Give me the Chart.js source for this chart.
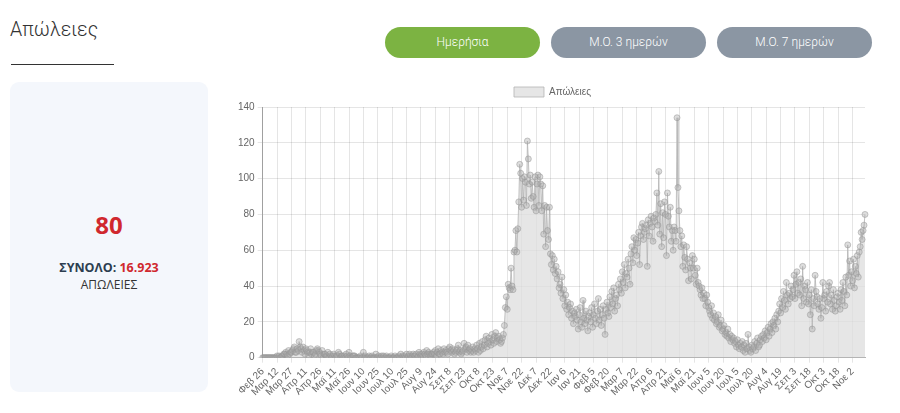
<!DOCTYPE html>
<html>
<head>
<meta charset="utf-8">
<script src="https://cdn.jsdelivr.net/npm/chart.js@4.4.0/dist/chart.umd.min.js"></script>
<style>
  html, body { margin: 0; padding: 0; background: #fff; width: 900px; height: 413px; overflow: hidden; }
  body { position: relative; font-family: Roboto, 'Open Sans', sans-serif; }
  #title { position: absolute; left: 10px; top: 18px; font-family: Roboto, sans-serif; font-weight: 300; font-size: 19.5px; color: #333; }
  #uline { position: absolute; left: 11px; top: 64px; width: 103px; height: 1px; background: #333; }
  .btn { position: absolute; top: 27px; width: 155px; height: 31px; border-radius: 16px; color: #fff; font-family: Roboto, sans-serif; font-weight: 300; font-size: 12px; line-height: 31px; text-align: center; }
  #b1 { left: 385px; background: #7cb342; }
  #b2 { left: 551px; background: #8b96a3; }
  #b3 { left: 717px; background: #8b96a3; }
  #card { position: absolute; left: 10px; top: 82px; width: 198px; height: 310px; background: #f4f7fc; border-radius: 9px; }
  #big { position: absolute; left: 0; width: 198px; top: 126px; text-align: center; font-family: 'Open Sans', sans-serif; font-weight: 700; font-size: 24px; color: #d0282e; }
  #tot { position: absolute; left: 0; width: 198px; top: 177px; text-align: center; font-family: 'Open Sans', sans-serif; font-weight: 700; font-size: 12.5px; color: #2c3e50; }
  #tot span { color: #d0282e; }
  #lab { position: absolute; left: 0; width: 198px; top: 194px; text-align: center; font-family: 'Open Sans', sans-serif; font-size: 12px; color: #333; }
  #wrap { position: absolute; left: 235px; top: 77px; width: 635px; height: 324px; }
</style>
</head>
<body>
<div id="title">Απώλειες</div>
<div id="uline"></div>
<div class="btn" id="b1">Ημερήσια</div>
<div class="btn" id="b2">Μ.Ο. 3 ημερών</div>
<div class="btn" id="b3">Μ.Ο. 7 ημερών</div>
<div id="card">
  <div id="big">80</div>
  <div id="tot">ΣΥΝΟΛΟ: <span>16.923</span></div>
  <div id="lab">ΑΠΩΛΕΙΕΣ</div>
</div>
<div id="wrap"><canvas id="c"></canvas></div>
<script>
// Categories: daily, starting 26 Feb 2020
const startDate = [2020, 1, 26];
const monthNames = ['Ιαν','Φεβ','Μαρ','Απρ','Μαϊ','Ιουν','Ιουλ','Αυγ','Σεπ','Οκτ','Νοε','Δεκ'];
const seriesName = 'Απώλειες';
const labelEvery = 15;
const yTicks = [0, 20, 40, 60, 80, 100, 120, 140];

// Daily deaths, one array per month
const feb2020 = [0,0,0,0];
const mar2020 = [0,0,0,0,0,0,0,0,0,0,0,1,0,1,0,0,1,1,2,2,3,2,1,4,2,3,3,4,5,6,3];
const apr2020 = [3,5,4,9,6,5,3,6,4,2,5,4,3,1,3,5,2,3,3,1,2,4,5,4,3,2,1,4,0,2];
const may2020 = [2,1,1,3,0,2,1,0,1,2,1,0,1,1,3,2,0,1,1,0,1,0,2,1,0,3,1,0,0,1,1];
const jun2020 = [1,0,0,0,0,0,1,0,0,3,0,1,0,0,0,1,0,0,1,0,0,0,2,0,0,1,0,0,1,0];
const jul2020 = [1,0,0,1,0,0,0,0,1,0,0,0,1,0,0,0,1,0,2,0,1,0,1,0,2,0,1,2,1,0,1];
const aug2020 = [2,1,1,2,0,1,3,2,1,2,1,3,2,1,4,2,3,2,1,2,2,3,2,4,1,3,5,2,2,4,3];
const sep2020 = [2,5,3,4,3,2,5,6,4,3,5,4,2,3,4,5,7,3,4,2,3,4,8,5,6,3,7,4,5,3];
const oct2020 = [4,6,3,5,4,7,5,3,8,4,6,9,5,7,10,12,6,8,11,9,7,13,10,8,12,14,9,11,12,10,8];
const nov2020 = [9,11,13,18,28,34,27,41,39,38,50,40,38,59,60,71,59,72,87,108,103,84,100,88,101,98,85,121,111,97];
const dec2020 = [102,89,98,90,84,101,82,97,102,85,101,97,82,96,69,85,62,84,71,66,84,58,52,57,49,55,47,51,44,48,39];
const jan2021 = [41,36,45,33,38,29,35,27,31,24,28,30,22,26,19,25,23,27,21,16,24,28,20,17,32,22,19,26,21,15,23];
const feb2021 = [25,20,28,17,24,30,22,19,26,33,21,27,18,24,29,22,13,27,31,25,23,34,28,37,30,39,26,33];
const mar2021 = [35,29,41,38,44,36,48,42,52,39,47,45,55,50,41,58,62,53,67,60,66,57,64,70,52,68,73,75,66,70,72];
const apr2021 = [74,51,77,68,75,79,73,65,78,76,80,92,74,104,69,86,62,81,67,87,80,57,92,79,73,84,65,71,60,73];
const may2021 = [71,65,134,95,82,71,62,68,51,63,56,49,62,55,43,53,50,44,57,50,55,46,41,50,42,40,38,35,39,33,36];
const jun2021 = [33,29,35,31,28,26,24,29,22,25,21,23,19,20,24,17,18,21,15,16,18,13,14,12,16,11,13,9,12,10];
const jul2021 = [11,8,9,6,10,7,5,8,6,9,4,7,3,8,5,13,6,4,3,7,5,6,9,4,8,11,6,7,10,12,9];
const aug2021 = [13,11,15,10,14,17,12,16,19,14,20,18,22,16,24,20,26,30,25,33,28,37,32,27,42,35,30,36,33,40,34];
const sep2021 = [38,46,33,41,48,36,42,35,44,29,51,33,40,38,31,42,30,35,24,38,16,33,29,46,37,34,30,27,33,22];
const oct2021 = [28,42,33,35,26,37,31,40,42,30,35,27,38,32,26,29,34,36,31,27,38,32,42,37,29,45,35,63,46,54,40];
const nov2021 = [48,43,55,39,51,47,57,45,59,62,70,66,71,74,80];

const deaths = [].concat(feb2020, mar2020, apr2020, may2020, jun2020, jul2020, aug2020, sep2020,
  oct2020, nov2020, dec2020, jan2021, feb2021, mar2021, apr2021, may2021, jun2021, jul2021,
  aug2021, sep2021, oct2021, nov2021);

const labels = deaths.map((_, i) => {
  const d = new Date(startDate[0], startDate[1], startDate[2] + i);
  return monthNames[d.getMonth()] + ' ' + d.getDate();
});

const tickFont = { family: "'Liberation Sans', Arial, sans-serif", size: 10 };

new Chart(document.getElementById('c'), {
  type: 'line',
  data: {
    labels: labels,
    datasets: [{
      label: seriesName,
      data: deaths,
      fill: true,
      backgroundColor: 'rgba(222,222,222,0.75)',
      borderColor: 'rgba(180,180,180,0.8)',
      borderWidth: 1,
      tension: 0,
      pointRadius: 3,
      pointBackgroundColor: 'rgba(170,170,170,0.4)',
      pointBorderColor: 'rgba(150,150,150,0.5)',
      pointBorderWidth: 1
    }]
  },
  options: {
    responsive: true,
    maintainAspectRatio: false,
    animation: false,
    layout: { padding: { top: 3 } },
    plugins: {
      legend: {
        display: true,
        labels: { boxWidth: 30, boxHeight: 10, font: tickFont, color: '#666', padding: 7 }
      },
      tooltip: { enabled: false }
    },
    scales: {
      x: {
        grid: { color: 'rgba(0,0,0,0.1)', drawTicks: true, tickLength: 5 },
        border: { color: 'rgba(0,0,0,0.3)' },
        ticks: {
          autoSkip: false,
          maxRotation: 45, minRotation: 45,
          font: tickFont, color: '#666',
          callback: function(v, i) { return i % labelEvery === 0 ? labels[i] : null; }
        }
      },
      y: {
        min: yTicks[0], max: yTicks[yTicks.length - 1],
        grid: { color: 'rgba(0,0,0,0.1)', tickLength: 5 },
        border: { color: 'rgba(0,0,0,0.3)' },
        afterBuildTicks: (s) => { s.ticks = yTicks.map(v => ({ value: v })); },
        ticks: { font: tickFont, color: '#666' }
      }
    }
  }
});
</script>
</body>
</html>
